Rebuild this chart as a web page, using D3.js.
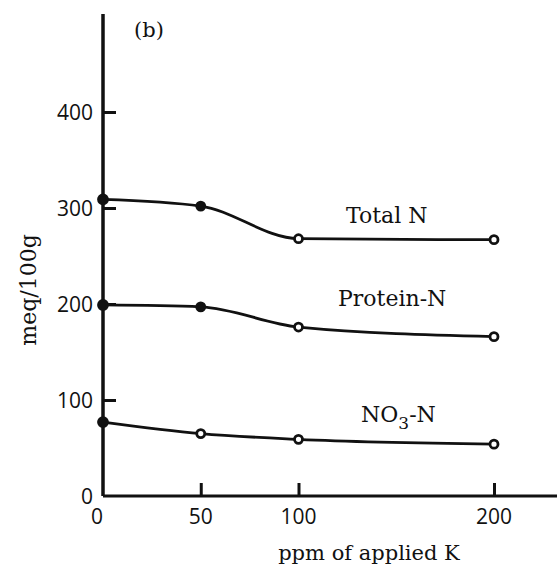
<!DOCTYPE html>
<html><head><meta charset="utf-8">
<script src="https://cdn.jsdelivr.net/npm/d3@7"></script>
<style>body{margin:0;background:#fff}</style>
</head><body>
<svg id="c" width="558" height="571"></svg>
<script>
const xValues = [0, 50, 100, 200];
const totalN = [309, 302, 268, 267];
const proteinN = [199, 197, 176, 166];
const no3N = [77, 65, 59, 54];
const xTicks = [0, 50, 100, 200];
const yTicks = [0, 100, 200, 300, 400];
const seriesLabels = ["Total N", "Protein-N", "NO3-N"];

const svg = d3.select("#c");
const x = d3.scaleLinear().domain([0, 200]).range([103, 494]);
const y = d3.scaleLinear().domain([0, 400]).range([496, 112]);
const ink = "#111";

// axes
svg.append("line").attr("x1", 103).attr("x2", 103).attr("y1", 14).attr("y2", 496)
  .attr("stroke", ink).attr("stroke-width", 3.5);
svg.append("line").attr("x1", 103).attr("x2", 557).attr("y1", 496).attr("y2", 496)
  .attr("stroke", ink).attr("stroke-width", 3);

const yAxis = d3.axisRight(y).tickValues(yTicks.slice(1)).tickSize(13).tickFormat("");
svg.append("g").attr("transform", "translate(103,0)").call(yAxis)
  .call(g => g.select(".domain").remove())
  .call(g => g.selectAll(".tick line").attr("stroke", ink).attr("stroke-width", 3));
const xAxis = d3.axisTop(x).tickValues(xTicks.slice(1)).tickSize(13).tickFormat("");
svg.append("g").attr("transform", "translate(0,496)").call(xAxis)
  .call(g => g.select(".domain").remove())
  .call(g => g.selectAll(".tick line").attr("stroke", ink).attr("stroke-width", 3));

const numFont = "'Open Sans', sans-serif";
svg.selectAll(".ylab").data(yTicks).enter().append("text")
  .attr("x", 93).attr("y", d => y(d) + 8)
  .attr("text-anchor", "end").attr("font-family", numFont).attr("font-size", 21)
  .attr("fill", ink).text(d => d);
svg.selectAll(".xlab").data(xTicks).enter().append("text")
  .attr("x", d => d === 0 ? x(d) - 6 : x(d)).attr("y", 524)
  .attr("text-anchor", "middle").attr("font-family", numFont).attr("font-size", 21)
  .attr("fill", ink).text(d => d);

const serif = "'DejaVu Serif', serif";
svg.append("text").attr("x", 369).attr("y", 560).attr("text-anchor", "middle")
  .attr("font-family", serif).attr("font-size", 21).attr("fill", ink).text("ppm of applied K");
svg.append("text").attr("transform", "translate(36,290) rotate(-90)").attr("text-anchor", "middle")
  .attr("font-family", serif).attr("font-size", 22).attr("fill", ink).text("meq/100g");
svg.append("text").attr("x", 134).attr("y", 37)
  .attr("font-family", serif).attr("font-size", 21).attr("fill", ink).text("(b)");

const series = [totalN, proteinN, no3N];
const line = d3.line().x((d, i) => x(xValues[i])).y(d => y(d)).curve(d3.curveMonotoneX);
series.forEach((vals, si) => {
  svg.append("path").attr("d", line(vals)).attr("fill", "none")
    .attr("stroke", ink).attr("stroke-width", 2.8);
  svg.selectAll(".m" + si).data(vals).enter().append("circle")
    .attr("cx", (d, i) => x(xValues[i])).attr("cy", d => y(d))
    .attr("r", (d, i) => i === 0 ? 4.5 : 4)
    .attr("fill", (d, i) => (i === 0 || (si < 2 && i === 1)) ? ink : "#fff")
    .attr("stroke", ink).attr("stroke-width", 2.8);
});

// series labels
svg.append("text").attr("x", 346).attr("y", 223).attr("font-family", serif)
  .attr("font-size", 22).attr("fill", ink).text(seriesLabels[0]);
svg.append("text").attr("x", 338).attr("y", 306).attr("font-family", serif)
  .attr("font-size", 22).attr("fill", ink).text(seriesLabels[1]);
const t3 = svg.append("text").attr("x", 361).attr("y", 422).attr("font-family", serif)
  .attr("font-size", 22).attr("fill", ink);
t3.append("tspan").text("NO");
t3.append("tspan").attr("dy", 7).attr("font-size", 17).text("3");
t3.append("tspan").attr("dy", -7).text("-N");
</script>
</body></html>
